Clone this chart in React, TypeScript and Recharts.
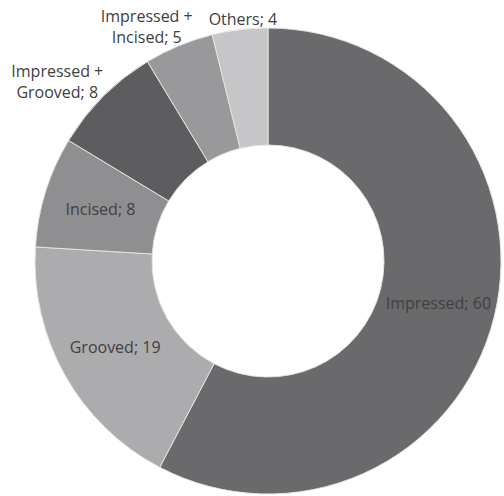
import { PieChart, Pie, Cell } from "recharts";

const categories = [
  "Impressed",
  "Grooved",
  "Incised",
  "Impressed + Grooved",
  "Impressed + Incised",
  "Others",
];
const counts = [60, 19, 8, 8, 5, 4];
const sliceColors = ["#6a6a6c", "#acacae", "#8f8f91", "#5d5d5f", "#99999b", "#c6c6c8"];
// labels Excel pushed outside the ring
const outsideLabels = ["Impressed + Grooved", "Impressed + Incised", "Others"];

const data = categories.map((name, i) => ({ name, value: counts[i] }));

const RADIAN = Math.PI / 180;
const FONT = "'Open Sans', 'Noto Sans', sans-serif";
const FONT_SIZE = 16;
const LINE_H = 21;

let ctx: CanvasRenderingContext2D | null = null;
function textWidth(s: string) {
  if (!ctx) ctx = document.createElement("canvas").getContext("2d");
  if (!ctx) return s.length * 8;
  ctx.font = `${FONT_SIZE}px ${FONT}`;
  return ctx.measureText(s).width;
}

const clamp = (v: number, lo: number, hi: number) => Math.max(lo, Math.min(hi, v));

function renderLabel(props: any) {
  const { cx, cy, midAngle, innerRadius, outerRadius, name, value } = props;
  const cos = Math.cos(-midAngle * RADIAN);
  const sin = Math.sin(-midAngle * RADIAN);
  const outside = outsideLabels.includes(name);
  const lines = outside && name.includes("+ ")
    ? [name.split("+ ")[0] + "+", `${name.split("+ ")[1]}; ${value}`]
    : [`${name}; ${value}`];

  let x: number;
  let y: number;
  if (outside) {
    // box sits just beyond the outer edge, shifted sideways the way Excel does
    const halfW = Math.max(...lines.map(textWidth)) / 2;
    const halfH = (lines.length * LINE_H) / 2;
    const px = cx + outerRadius * cos;
    const py = cy + outerRadius * sin;
    x = px + Math.sign(cos) * halfW * clamp(3 * (Math.abs(cos) - 0.15), -1, 1);
    y = py + halfH * sin;
  } else {
    const r = (innerRadius + outerRadius) / 2 + 1;
    x = cx + r * cos;
    y = cy + r * sin;
  }
  const top = y - ((lines.length - 1) * LINE_H) / 2;

  return (
    <text
      x={x}
      y={top}
      textAnchor="middle"
      dominantBaseline="central"
      fill="#404040"
      fontFamily={FONT}
      fontSize={FONT_SIZE}
    >
      {lines.map((l, i) => (
        <tspan key={i} x={x} y={top + i * LINE_H}>
          {l}
        </tspan>
      ))}
    </text>
  );
}

export default function App() {
  return (
    <div style={{ position: "absolute", left: 0, top: 0, width: 504, height: 496, background: "#fff" }}>
      <PieChart width={504} height={496} margin={{ top: 0, right: 0, bottom: 0, left: 0 }}>
        <Pie
          data={data}
          dataKey="value"
          nameKey="name"
          cx={268}
          cy={261}
          innerRadius={116}
          outerRadius={233}
          startAngle={90}
          endAngle={-270}
          stroke="#e4e4e4"
          strokeWidth={1}
          label={renderLabel}
          labelLine={false}
          isAnimationActive={false}
        >
          {data.map((d, i) => (
            <Cell key={d.name} fill={sliceColors[i]} />
          ))}
        </Pie>
      </PieChart>
    </div>
  );
}
